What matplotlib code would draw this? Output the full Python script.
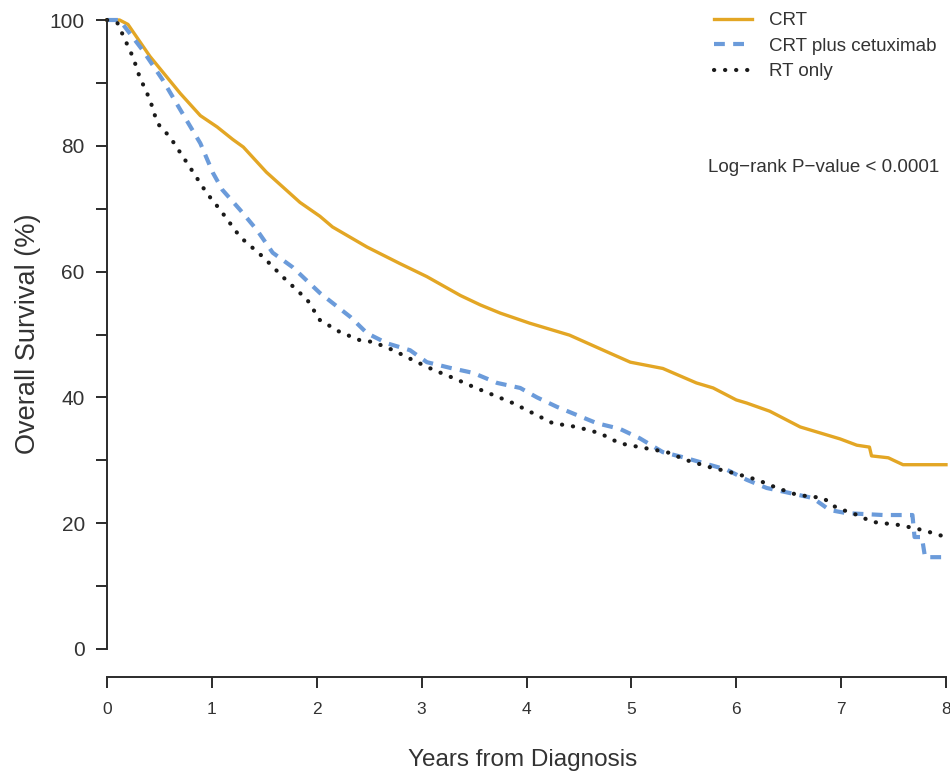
import matplotlib
matplotlib.use("Agg")
import matplotlib.pyplot as plt

plt.rcParams['font.family'] = ['Liberation Sans', 'DejaVu Sans']

# Kaplan-Meier curves (years, % surviving)
years_crt = [0, 0.12, 0.2, 0.41, 0.7, 0.89, 1.05, 1.2, 1.3, 1.52, 1.84, 2.03, 2.15,
             2.48, 2.79, 3.05, 3.37, 3.56, 3.75, 4.03, 4.41, 4.8, 4.99, 5.3, 5.62,
             5.78, 6.0, 6.1, 6.32, 6.61, 6.99, 7.15, 7.27, 7.29, 7.45, 7.5, 7.59, 8.0]
surv_crt = [100, 100, 99.3, 94.2, 88.3, 84.8, 83.0, 81.0, 79.8, 75.8, 71.0, 68.8, 67.1,
            63.9, 61.3, 59.2, 56.2, 54.7, 53.4, 51.8, 49.9, 47.0, 45.6, 44.6, 42.3,
            41.5, 39.6, 39.1, 37.8, 35.3, 33.4, 32.4, 32.1, 30.7, 30.4, 30.0, 29.3, 29.3]

years_cet = [0, 0.12, 0.34, 0.53, 0.7, 0.89, 1.01, 1.1, 1.27, 1.43, 1.58, 1.77, 2.03,
             2.32, 2.48, 2.67, 2.89, 3.05, 3.27, 3.49, 3.72, 3.94, 4.1, 4.29, 4.48,
             4.67, 4.89, 5.08, 5.3, 5.49, 5.68, 5.91, 6.1, 6.29, 6.51, 6.73, 6.89,
             7.05, 7.4, 7.68, 7.70, 7.77, 7.80, 8.0]
surv_cet = [100, 100, 95.2, 90.5, 85.7, 80.4, 75.7, 73.0, 69.8, 66.6, 63.0, 60.7, 56.6,
            52.8, 50.2, 48.6, 47.5, 45.6, 44.7, 43.9, 42.3, 41.5, 40.0, 38.5, 37.2,
            35.9, 35.0, 33.5, 31.3, 30.5, 29.6, 28.5, 26.9, 25.6, 24.8, 24.0, 22.1,
            21.6, 21.3, 21.3, 17.8, 17.8, 14.6, 14.6]

years_rt = [0, 0.1, 0.25, 0.31, 0.41, 0.48, 0.6, 0.79, 0.95, 1.08, 1.27, 1.49, 1.68,
            1.91, 2.03, 2.22, 2.41, 2.54, 2.73, 2.92, 3.11, 3.3, 3.49, 3.68, 3.87,
            4.06, 4.25, 4.48, 4.7, 4.89, 5.11, 5.34, 5.53, 5.75, 5.97, 6.2, 6.39,
            6.58, 6.83, 6.96, 7.11, 7.3, 7.56, 7.78, 8.0]
surv_rt = [100, 99.5, 94.0, 91.0, 87.3, 83.6, 81.4, 76.6, 72.5, 69.8, 65.5, 62.3, 59.1,
           55.5, 52.3, 50.4, 49.1, 48.8, 47.5, 45.9, 44.4, 43.1, 41.7, 40.4, 39.1,
           37.5, 35.9, 35.3, 34.3, 32.7, 32.0, 31.3, 30.0, 28.9, 28.0, 26.9, 25.6,
           24.5, 24.0, 22.4, 21.6, 20.2, 19.7, 18.9, 17.8]

group_labels = ["CRT", "CRT plus cetuximab", "RT only"]
x_ticks = [0, 1, 2, 3, 4, 5, 6, 7, 8]
y_ticks = [0, 20, 40, 60, 80, 100]
y_minor = [10, 30, 50, 70, 90]
pvalue_text = "Log\u2212rank P\u2212value < 0.0001"

ORANGE = "#E3A624"
BLUE = "#6B9BDA"
DARK = "#1a1a1a"
AXIS = "#2b2b2b"
TEXT = "#333333"

fig = plt.figure(figsize=(9.5, 7.77), dpi=100)
fig.patch.set_facecolor("white")
ax = fig.add_axes([107 / 950, 128 / 777, 839 / 950, 629 / 777])

l1, = ax.plot(years_crt, surv_crt, color=ORANGE, lw=2.4, solid_joinstyle="round",
              clip_on=False)
l2, = ax.plot(years_cet, surv_cet, color=BLUE, lw=3, linestyle=(0, (2.6, 2.0)),
              dash_capstyle="butt", clip_on=False)
l3, = ax.plot(years_rt, surv_rt, color=DARK, lw=3, linestyle=(0, (0.05, 2.6)),
              dash_capstyle="round", clip_on=False)

ax.set_xlim(0, 8)
ax.set_ylim(0, 100)

# R-style axes: detached x axis, no box
for side in ("top", "right"):
    ax.spines[side].set_visible(False)
ax.spines["bottom"].set_position(("outward", 20))
ax.spines["bottom"].set_bounds(0, 8)
ax.spines["left"].set_bounds(0, 100)
for side in ("bottom", "left"):
    ax.spines[side].set_linewidth(1.4)
    ax.spines[side].set_color(AXIS)

ax.set_xticks(x_ticks)
ax.set_xticklabels([str(v) for v in x_ticks])
ax.set_yticks(y_ticks)
ax.set_yticklabels([str(v) for v in y_ticks])
ax.set_yticks(y_minor, minor=True)
ax.tick_params(axis="y", which="both", length=8, width=1.4, color=AXIS,
               direction="out", pad=8, labelsize=15, labelcolor=TEXT)
ax.tick_params(axis="x", length=8, width=1.4, color=AXIS, direction="out",
               pad=10, labelsize=12.5, labelcolor=TEXT)

fig.text(28 / 950, 1 - 334 / 777, "Overall Survival (%)", rotation=90,
         ha="center", va="center", fontsize=19.5, color=TEXT)
fig.text(523 / 950, 1 - 760 / 777, "Years from Diagnosis",
         ha="center", va="center", fontsize=17.5, color=TEXT)

ax.legend([l1, l2, l3], group_labels, loc="upper left",
          bbox_to_anchor=(714 / 950, 1 - 12 / 777), bbox_transform=fig.transFigure,
          frameon=False, fontsize=13.5, handlelength=2.0, handletextpad=0.95,
          labelspacing=0.45, borderpad=0, borderaxespad=0, labelcolor=TEXT)

fig.text(708 / 950, 1 - 167 / 777, pvalue_text, ha="left", va="center",
         fontsize=13.5, color=TEXT)

fig.savefig("out.png", dpi=100, facecolor="white")
